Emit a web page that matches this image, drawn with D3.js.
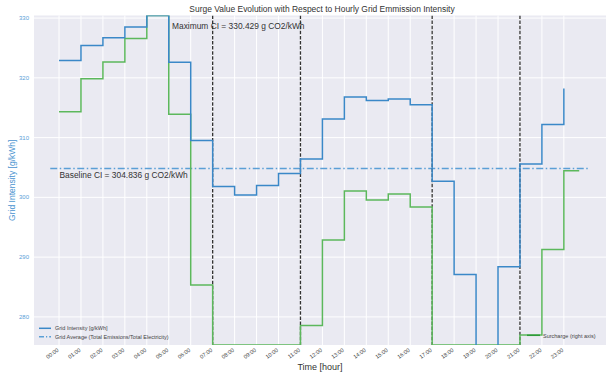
<!DOCTYPE html>
<html><head><meta charset="utf-8">
<script src="https://cdn.jsdelivr.net/npm/d3@7"></script>
<style>body{margin:0;background:#fff}svg{display:block}text{font-family:"Liberation Sans",Arial,sans-serif}</style>
</head><body><svg id="c" width="606" height="376"></svg>
<script>
const hours = d3.range(0, 24);
const hourLabels = hours.map(h => String(h).padStart(2, "0") + ":00");
const gridIntensity = [322.9, 325.4, 326.7, 328.5, 330.429, 322.6, 309.5, 301.8, 300.4, 302.0, 304.0, 306.4,
  313.1, 316.8, 316.2, 316.45, 315.5, 302.7, 287.1, 272.0, 288.4, 305.6, 312.2, 318.2];
const surchargeHours = [0,1,2,3,4,5,6,7,8,9,10,11,12,13,14,15,16,17,18,19,20,21,22,23,23.7];
const surcharge = [70.8, 80.8, 85.9, 93.0, 100, 70.0, 18.2, 0, 0, 0, 0, 5.9, 31.9, 46.7, 44.0, 45.8, 41.9,
  0, 0, 0, 0, 3.0, 29.0, 52.9, 52.9];
const baselineCI = 304.836;
const maximumCI = 330.429;
const baselineSpan = [-0.4, 24.1];
const eventHours = [7, 11, 17, 21];
const yTicks = [280, 290, 300, 310, 320, 330];

const svg = d3.select("#c");
const L = 34, R = 606, T = 15.5, B = 345;
const x = d3.scaleLinear().domain([-1.14, 24.92]).range([L, R]);
const y = d3.scaleLinear().domain([275.3, maximumCI]).range([B, T]);
const y2 = d3.scaleLinear().domain([0, 100]).range([B, T]);

svg.append("defs").append("clipPath").attr("id", "clip")
  .append("rect").attr("x", L).attr("y", T).attr("width", R - L).attr("height", B - T);

svg.append("rect").attr("x", L).attr("y", T).attr("width", R - L).attr("height", B - T).attr("fill", "#eaeaf2");

const g = svg.append("g");
g.selectAll(".vg").data(hours).join("line")
  .attr("x1", d => x(d)).attr("x2", d => x(d)).attr("y1", T).attr("y2", B)
  .attr("stroke", "#fff").attr("stroke-width", 1);
g.selectAll(".hg").data(yTicks).join("line")
  .attr("x1", L).attr("x2", R).attr("y1", d => y(d)).attr("y2", d => y(d))
  .attr("stroke", "#fff").attr("stroke-width", 1);

const plot = svg.append("g").attr("clip-path", "url(#clip)");

plot.append("line").attr("x1", x(baselineSpan[0])).attr("x2", x(baselineSpan[1]))
  .attr("y1", y(baselineCI)).attr("y2", y(baselineCI))
  .attr("stroke", "#5b9fd6").attr("stroke-width", 1.5).attr("stroke-dasharray", "7,2.5,1.5,2.5");

plot.selectAll(".ev").data(eventHours).join("line")
  .attr("x1", d => x(d)).attr("x2", d => x(d)).attr("y1", T).attr("y2", B)
  .attr("stroke", "#333").attr("stroke-width", 1.3).attr("stroke-dasharray", "3.5,1.6");

const lineS = d3.line().x(d => x(d[0])).y(d => y2(d[1])).curve(d3.curveStepAfter);
plot.append("path").datum(surchargeHours.map((h, i) => [h, surcharge[i]]))
  .attr("d", lineS).attr("fill", "none").attr("stroke", "#5cb85c").attr("stroke-width", 1.5);

const lineG = d3.line().x(d => x(d[0])).y(d => y(d[1])).curve(d3.curveStepAfter);
plot.append("path").datum(hours.map((h, i) => [h, gridIntensity[i]]))
  .attr("d", lineG).attr("fill", "none").attr("stroke", "#3a88c8").attr("stroke-width", 1.5);

svg.selectAll(".yt").data(yTicks).join("text")
  .attr("x", 29).attr("y", d => y(d)).attr("dy", "0.35em").attr("text-anchor", "end")
  .attr("font-size", 6).attr("fill", "#5aa0d8").text(d => d);

svg.selectAll(".xt").data(hours).join("text")
  .attr("transform", d => `translate(${x(d)},${351}) rotate(-35)`)
  .attr("text-anchor", "end").attr("font-size", 5.5).attr("fill", "#444")
  .text((d, i) => hourLabels[i]);

svg.append("text").attr("x", (L + R) / 2).attr("y", 370).attr("text-anchor", "middle")
  .attr("font-size", 9).attr("fill", "#333").text("Time [hour]");
svg.append("text").attr("transform", `translate(15,${(T + B) / 2}) rotate(-90)`)
  .attr("text-anchor", "middle").attr("font-size", 8.5).attr("fill", "#4a94d0").text("Grid Intensity [g/kWh]");
svg.append("text").attr("x", (L + R) / 2 + 2).attr("y", 12).attr("text-anchor", "middle")
  .attr("font-size", 8.45).attr("fill", "#333").text("Surge Value Evolution with Respect to Hourly Grid Emmission Intensity");

svg.append("text").attr("x", x(5.15)).attr("y", 29).attr("font-size", 8.4).attr("fill", "#333")
  .text(`Maximum CI = ${maximumCI} g CO2/kWh`);
svg.append("text").attr("x", x(0.02)).attr("y", 178).attr("font-size", 8.4).attr("fill", "#333")
  .text(`Baseline CI = ${baselineCI} g CO2/kWh`);

const leg = svg.append("g");
leg.append("line").attr("x1", 39).attr("x2", 51).attr("y1", 328.3).attr("y2", 328.3)
  .attr("stroke", "#3a88c8").attr("stroke-width", 1.5);
leg.append("text").attr("x", 55).attr("y", 328.3).attr("dy", "0.35em").attr("font-size", 5.5).attr("fill", "#444")
  .text("Grid Intensity [g/kWh]");
leg.append("line").attr("x1", 39).attr("x2", 51).attr("y1", 336.7).attr("y2", 336.7)
  .attr("stroke", "#5b9fd6").attr("stroke-width", 1.5).attr("stroke-dasharray", "5,2,1.2,2");
leg.append("text").attr("x", 55).attr("y", 336.7).attr("dy", "0.35em").attr("font-size", 5.5).attr("fill", "#444")
  .text("Grid Average (Total Emissions/Total Electricity)");
leg.append("line").attr("x1", 527).attr("x2", 540).attr("y1", 335.3).attr("y2", 335.3)
  .attr("stroke", "#2e9a3a").attr("stroke-width", 1.5);
leg.append("text").attr("x", 543).attr("y", 336.5).attr("dy", "0.35em").attr("font-size", 5.5).attr("fill", "#444")
  .text("Surcharge (right axis)");
</script></body></html>
